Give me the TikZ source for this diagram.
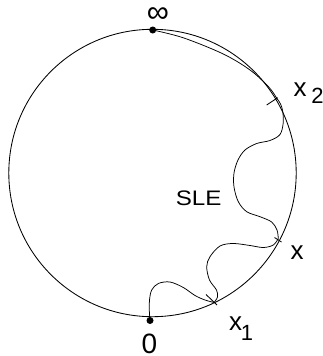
\documentclass[tikz,border=0pt]{standalone}
\usepackage{graphicx}
\usepackage{fontspec}
\setmainfont{Liberation Sans}
\begin{document}
\begin{tikzpicture}[x=1pt,y=-1pt,
  lbl/.style={inner sep=0pt, anchor=base, font=\fontsize{26}{26}\selectfont},
  sublbl/.style={inner sep=0pt, anchor=base, font=\fontsize{22}{22}\selectfont},
  slecurve/.style={line width=0.75pt, line join=round},
  tickmark/.style={line width=0.85pt},
  dotpt/.style={circle, fill, inner sep=0pt, minimum size=7pt}]
\useasboundingbox (0,0) rectangle (323,356);
\coordinate (O) at (152.5,173);
\draw[line width=0.85pt] (O) circle[radius=143.7];
\node[dotpt] (inf) at (152.7,30) {};
\node[dotpt] (zero) at (150,320.5) {};
\coordinate (X2) at (277,98.5);
\coordinate (X) at (278.3,238.5);
\coordinate (X1) at (214,302.5);
% ticks
\draw[tickmark] (266.7,105) -- (277.7,97.7);
\draw[tickmark] (274.5,237.5) -- (281.5,242);
\draw[tickmark] (206,294.5) -- (217,305);
% SLE curve
\draw[slecurve] plot[smooth, tension=0.55] coordinates {(inf.center) (183.3,37.8) (223.3,54) (250,70) (268.3,86.5) (277,98.5) (280.5,104) (282.7,111) (283.2,123) (280,134.5) (270,140.5) (256.7,143.5) (245,150) (238,160) (234,173) (234,187) (238.3,201.7) (246.7,211.7) (260,216.7) (271.7,222) (277,230) (X)};
\draw[slecurve] plot[smooth, tension=0.55] coordinates {(X) (273.3,245) (263.3,247.5) (250,245.5) (233.3,243.5) (220,246) (210,256.7) (206.7,266.7) (209.5,280) (216.5,290) (217.5,297) (X1)};
\draw[slecurve] plot[smooth, tension=0.55] coordinates {(X1) (205,300) (195,295.5) (183.3,287.5) (170,282) (158.3,283.5) (151.7,290) (149.5,300) (149.3,310) (zero.center)};
% labels
\node[inner sep=0pt, font=\fontsize{31}{31}\selectfont] (linf) at (157.8,15) {∞};
\node[inner sep=0pt, anchor=base, font=\fontsize{28}{28}\selectfont] (l0) at (149.5,353) {0};
\node[lbl] (lx2) at (300,96) {x};
\node[sublbl] (l2) at (317.5,103.3) {2};
\node[lbl] (lx) at (297,259.3) {x};
\node[lbl] (lx1) at (235.5,330) {x};
\node[sublbl] (l1) at (247,340) {1};
\node[inner sep=0pt, anchor=base, font=\fontsize{21}{21}\selectfont] (sle) at (198.7,205) {\scalebox{1.15}[1]{SLE}};
\end{tikzpicture}
\end{document}
